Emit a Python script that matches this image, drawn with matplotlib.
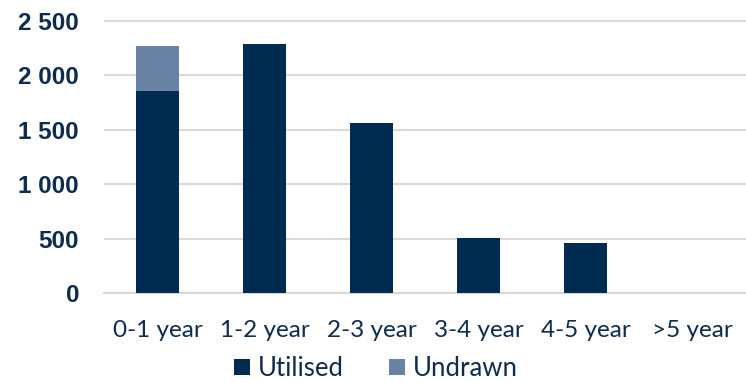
import matplotlib
matplotlib.use("Agg")
import matplotlib.pyplot as plt
import numpy as np

categories = ["0-1 year", "1-2 year", "2-3 year", "3-4 year", "4-5 year", ">5 year"]
utilised = [1860, 2290, 1565, 505, 458, 0]
undrawn = [410, 0, 0, 0, 0, 0]
yticks = [0, 500, 1000, 1500, 2000, 2500]
ytick_labels = ["0", "500", "1 000", "1 500", "2 000", "2 500"]

navy = "#002B51"
grey_blue = "#6883A3"
text_col = "#0E2C4E"

fig = plt.figure(figsize=(7.46, 3.82), dpi=100)
ax = fig.add_axes([104/746, 89/382, 1 - 104/746, (293-21)/382 * 2520/2500])

x = np.arange(len(categories))
ax.bar(x, utilised, width=0.41, color=navy, label="Utilised", zorder=3)
ax.bar(x, undrawn, width=0.41, bottom=utilised, color=grey_blue, label="Undrawn", zorder=3)

ax.set_xlim(-0.5, len(categories) - 0.5)
ax.set_ylim(0, 2520)
ax.set_yticks(yticks)
ax.set_yticklabels(ytick_labels, fontsize=17.5, fontweight="bold", color=text_col,
                   family=["Liberation Sans", "DejaVu Sans"])
ax.set_xticks(x)
ax.set_xticklabels(categories, fontsize=17.5, color=text_col,
                   family=["Lato", "DejaVu Sans"])
ax.tick_params(axis="both", length=0)
ax.tick_params(axis="y", pad=18)
ax.tick_params(axis="x", pad=19.5)
ax.grid(axis="y", color="#D9D9D9", linewidth=1.5, zorder=0)
for s in ["top", "right", "left"]:
    ax.spines[s].set_visible(False)
ax.spines["bottom"].set_color("#D9D9D9")
ax.spines["bottom"].set_linewidth(1.5)

leg = fig.legend(loc="lower center", bbox_to_anchor=(376/746, -0.058), ncol=2, frameon=False,
                 prop={"family": ["Lato", "DejaVu Sans"], "size": 18.5},
                 handlelength=0.62, handleheight=0.62, handletextpad=0.3, columnspacing=1.75)
for t in leg.get_texts():
    t.set_color(text_col)

fig.savefig("out.png", dpi=100)
